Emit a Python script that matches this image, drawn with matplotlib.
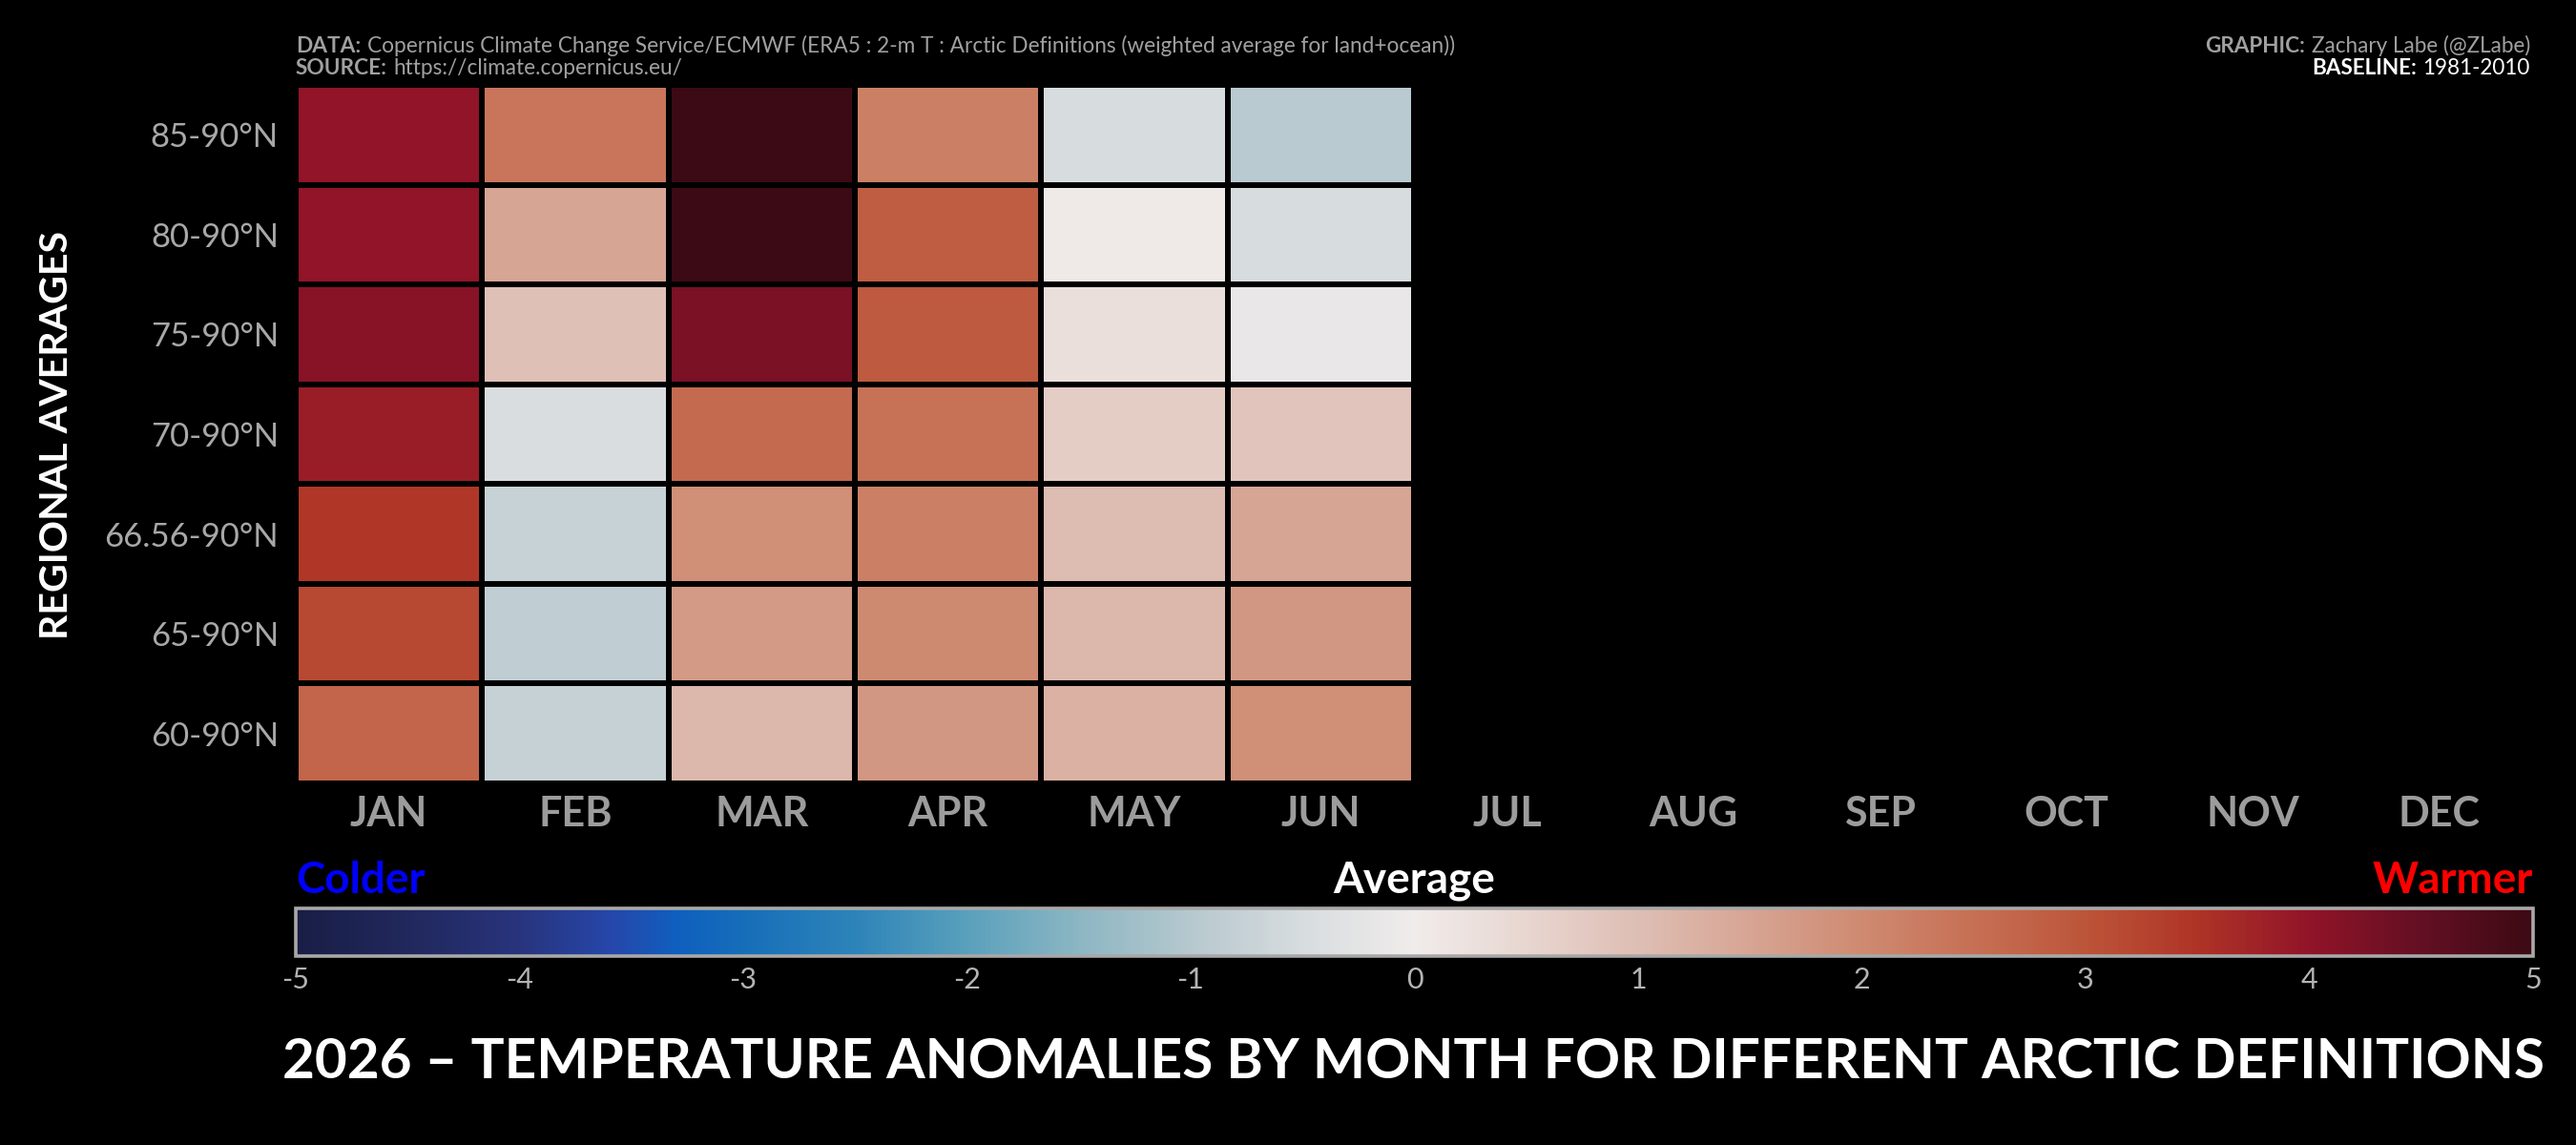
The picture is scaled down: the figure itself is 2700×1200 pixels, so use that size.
import numpy as np
import matplotlib
matplotlib.use('Agg')
import matplotlib.pyplot as plt
from matplotlib.colors import LinearSegmentedColormap, Normalize
import matplotlib.cm as cm

plt.rcParams['font.family'] = ['Lato', 'DejaVu Sans']

# ---------------- data ----------------
months = ['JAN', 'FEB', 'MAR', 'APR', 'MAY', 'JUN',
          'JUL', 'AUG', 'SEP', 'OCT', 'NOV', 'DEC']
regions = ['85-90°N', '80-90°N', '75-90°N', '70-90°N',
           '66.56-90°N', '65-90°N', '60-90°N']
jan = [4.0, 4.0, 4.1, 3.85, 3.45, 3.2, 2.7]
feb = [2.4, 1.5, 0.95, -0.45, -0.75, -0.85, -0.78]
mar = [5.0, 5.0, 4.25, 2.6, 1.9, 1.7, 1.15]
apr = [2.2, 2.85, 2.9, 2.45, 2.2, 2.0, 1.75]
may = [-0.5, 0.05, 0.3, 0.7, 1.05, 1.15, 1.25]
jun = [-0.95, -0.5, -0.15, 0.85, 1.5, 1.75, 1.9]
cbar_ticks = [-5, -4, -3, -2, -1, 0, 1, 2, 3, 4, 5]
vmin, vmax = -5, 5

title = '2026 – TEMPERATURE ANOMALIES BY MONTH FOR DIFFERENT ARCTIC DEFINITIONS'
ylabel = 'REGIONAL AVERAGES'
data_label, data_text = 'DATA:', 'Copernicus Climate Change Service/ECMWF (ERA5 : 2-m T : Arctic Definitions (weighted average for land+ocean))'
source_label, source_text = 'SOURCE:', 'https://climate.copernicus.eu/'
graphic_label, graphic_text = 'GRAPHIC:', 'Zachary Labe (@ZLabe)'
baseline_label, baseline_text = 'BASELINE:', '1981-2010'

# ---------------- colormap (balance-like) ----------------
cmap_nodes = [
    (-5.0, (25, 30, 70)), (-4.5, (33, 40, 92)), (-4.0, (40, 52, 125)),
    (-3.6, (38, 70, 170)), (-3.3, (15, 95, 190)), (-3.0, (22, 110, 185)),
    (-2.5, (45, 132, 185)), (-2.0, (90, 160, 188)), (-1.5, (140, 182, 195)),
    (-1.0, (182, 200, 206)), (-0.5, (215, 220, 222)), (0.0, (240, 236, 235)),
    (0.5, (232, 214, 208)), (1.0, (222, 190, 180)), (1.5, (215, 165, 148)),
    (2.0, (206, 138, 113)), (2.5, (198, 112, 85)), (3.0, (188, 85, 58)),
    (3.5, (175, 52, 38)), (4.0, (145, 20, 40)), (4.5, (100, 15, 35)),
    (5.0, (60, 10, 20)),
]
cmap = LinearSegmentedColormap.from_list(
    'balance_like',
    [((v - vmin) / (vmax - vmin), tuple(c / 255 for c in col)) for v, col in cmap_nodes],
    N=512)
cmap.set_bad((0, 0, 0, 0))
norm = Normalize(vmin=vmin, vmax=vmax)

# ---------------- figure ----------------
W, H, DPI = 2700, 1200, 100
fig = plt.figure(figsize=(W / DPI, H / DPI), dpi=DPI, facecolor='black')
renderer = fig.canvas.get_renderer()

grid = np.full((len(regions), len(months)), np.nan)
for j, col in enumerate([jan, feb, mar, apr, may, jun]):
    grid[:, j] = col
grid = np.ma.masked_invalid(grid)

ax = fig.add_axes([310 / W, 1 - 821 / H, (2654 - 310) / W, (821 - 89) / H])
ax.set_facecolor('black')
ax.pcolormesh(np.arange(len(months) + 1), np.arange(len(regions) + 1), grid,
              cmap=cmap, norm=norm, edgecolors='black', linewidth=4.3)
ax.set_xlim(0, len(months))
ax.set_ylim(len(regions), 0)
for s in ax.spines.values():
    s.set_visible(False)
ax.set_xticks(np.arange(len(months)) + 0.5)
ax.set_xticklabels(months, fontsize=31, fontweight='bold', color='#9c9c9c')
ax.set_yticks(np.arange(len(regions)) + 0.5)
ax.set_yticklabels(regions, fontsize=25, color='#a8a8a8')
ax.tick_params(axis='x', length=0, pad=9)
ax.tick_params(axis='y', length=0, pad=13)

# y label
yl = fig.text(60 / W, 1 - 456 / H, ylabel, rotation=90, ha='center', va='center',
              color='white', fontweight='bold', fontsize=30)
hb = yl.get_window_extent(renderer).height
yl.set_fontsize(30 * 428 / hb)

# ---------------- colorbar ----------------
cax = fig.add_axes([310 / W, 1 - 1002 / H, (2655 - 310) / W, 50 / H])
sm = cm.ScalarMappable(norm=norm, cmap=cmap)
cb = fig.colorbar(sm, cax=cax, orientation='horizontal', ticks=cbar_ticks)
cb.outline.set_edgecolor('#a8a8a8')
cb.outline.set_linewidth(2.6)
cb.ax.set_xticklabels([str(t) for t in cbar_ticks])
cb.ax.tick_params(length=0, colors='#b4b4b4', labelsize=22, pad=8)

cy = 1 - 936 / H
fig.text(310 / W, cy, 'Colder', color='#0000ff', fontsize=33, fontweight='bold',
         ha='left', va='baseline')
fig.text(1482 / W, cy, 'Average', color='white', fontsize=33, fontweight='bold',
         ha='center', va='baseline')
fig.text(2655 / W, cy, 'Warmer', color='#ff0000', fontsize=33, fontweight='bold',
         ha='right', va='baseline')

# ---------------- title ----------------
tt = fig.text(1481 / W, 1 - 1130 / H, title, color='white', fontweight='bold',
              fontsize=40, ha='center', va='baseline')
tw = tt.get_window_extent(renderer).width
tt.set_fontsize(40 * 2370 / tw)


# ---------------- header texts ----------------
def pair(x_px, y_px, label, value, size, lc, vc, ha='left', target=None):
    y = 1 - y_px / H
    t1 = fig.text(0, y, label, fontsize=size, fontweight='bold', color=lc, va='baseline')
    t2 = fig.text(0, y, value, fontsize=size, color=vc, va='baseline')
    if target:
        w = (t1.get_window_extent(renderer).width + t2.get_window_extent(renderer).width
             + size * 0.3 * DPI / 72)
        size = size * target / w
        t1.set_fontsize(size)
        t2.set_fontsize(size)
    w1 = t1.get_window_extent(renderer).width
    w2 = t2.get_window_extent(renderer).width
    gap = size * 0.3 * DPI / 72
    if ha == 'left':
        x1 = x_px
        x2 = x_px + w1 + gap
    else:
        x2 = x_px - w2
        x1 = x2 - gap - w1
    t1.set_x(x1 / W)
    t2.set_x(x2 / W)
    return size


s_left = pair(310, 55, data_label, data_text, 14, '#a0a0a0', '#a0a0a0', target=1216)
pair(310, 78, source_label, source_text, s_left, '#a0a0a0', '#a0a0a0')
s_right = pair(2652, 55, graphic_label, graphic_text, 14, '#a0a0a0', '#a0a0a0',
               ha='right', target=343)
pair(2652, 78, baseline_label, baseline_text, s_right, 'white', 'white', ha='right')

fig.savefig('out.png', dpi=DPI, facecolor='black')
